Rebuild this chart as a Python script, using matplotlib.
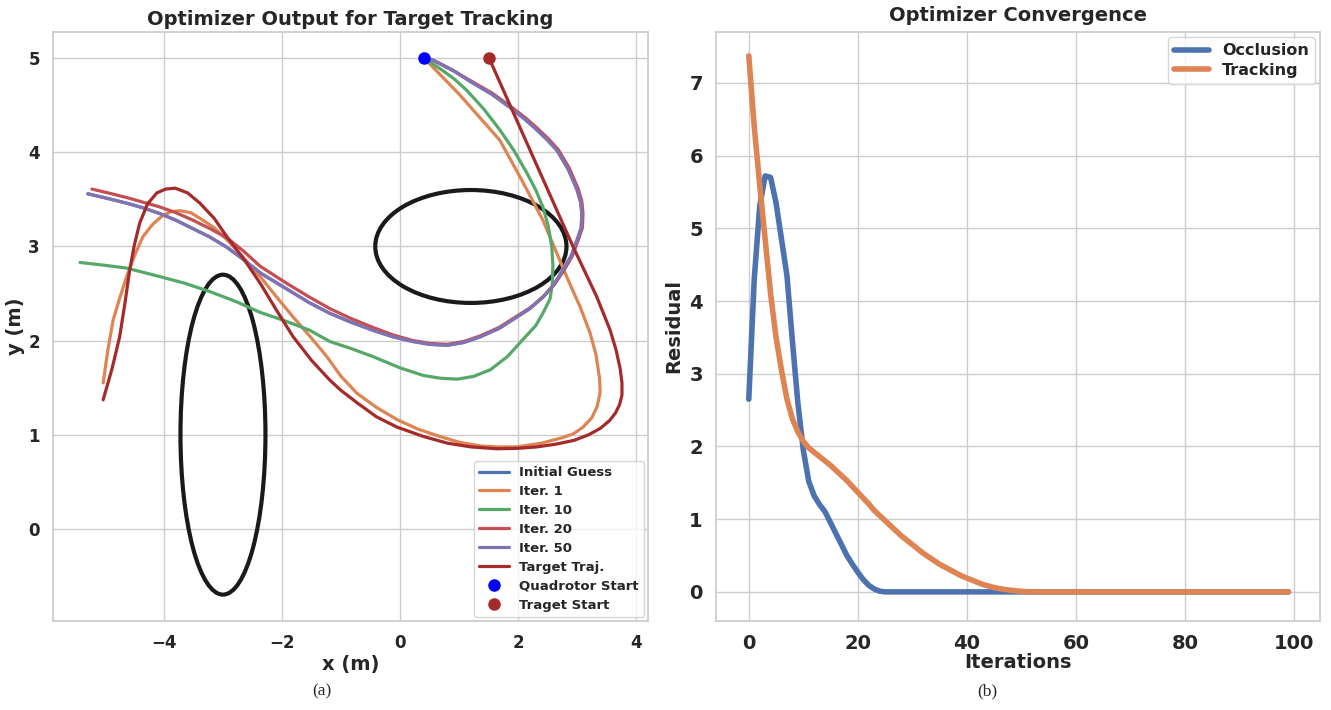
import matplotlib
matplotlib.use('Agg')
import matplotlib.pyplot as plt
from matplotlib.patches import Ellipse
import seaborn as sns

# --- trajectories (x, y in metres) ---
iter1_x = [0.41, 1.0, 1.69, 2.05, 2.42, 2.85, 3.05, 3.22, 3.32, 3.38, 3.39, 3.34, 3.25, 3.1, 2.94,
           2.76, 2.4, 1.98, 1.66, 1.36, 1.0, 0.68, 0.3, -0.05, -0.4, -0.73, -1.0, -1.24, -1.52,
           -1.81, -2.1, -2.37, -2.65, -2.93, -3.15, -3.39, -3.55, -3.73, -3.88, -4.02, -4.2, -4.36,
           -4.5, -4.63, -4.75, -4.86, -4.95, -5.03]
iter1_y = [5.0, 4.62, 4.13, 3.72, 3.28, 2.64, 2.36, 2.08, 1.85, 1.6, 1.45, 1.3, 1.18, 1.08, 1.01,
           0.97, 0.91, 0.87, 0.87, 0.88, 0.92, 0.98, 1.06, 1.16, 1.29, 1.44, 1.62, 1.83, 2.04,
           2.25, 2.47, 2.68, 2.88, 3.07, 3.2, 3.3, 3.36, 3.38, 3.37, 3.33, 3.23, 3.1,
           2.9, 2.68, 2.45, 2.22, 1.9, 1.55]

iter10_x = [0.41, 0.7, 0.92, 1.13, 1.42, 1.69, 1.93, 2.15, 2.3, 2.42, 2.51, 2.57, 2.59, 2.58, 2.54,
            2.42, 2.3, 2.08, 1.82, 1.53, 1.25, 0.97, 0.68, 0.39, 0.0, -0.46, -0.85, -1.19, -1.53,
            -1.95, -2.37, -2.8, -3.22, -3.65, -4.07, -4.63, -5.0, -5.42]
iter10_y = [5.0, 4.88, 4.78, 4.66, 4.46, 4.24, 4.02, 3.78, 3.6, 3.42, 3.22, 3.0, 2.8, 2.6, 2.44,
            2.29, 2.16, 2.01, 1.83, 1.69, 1.62, 1.59, 1.6, 1.63, 1.71, 1.83, 1.92, 1.99, 2.11,
            2.21, 2.3, 2.42, 2.52, 2.61, 2.68, 2.77, 2.8, 2.83]

iter50_x = [0.41, 0.56, 0.9, 1.2, 1.55, 1.86, 2.1, 2.3, 2.5, 2.66, 2.85, 3.0, 3.06, 3.08, 3.07, 3.0,
            2.9, 2.76, 2.6, 2.42, 2.2, 1.98, 1.68, 1.36, 1.08, 0.8, 0.5, 0.22, -0.12, -0.46, -0.85,
            -1.19, -1.53, -1.95, -2.37, -2.65, -2.93, -3.22, -3.51, -3.8, -4.07, -4.35, -4.63,
            -4.95, -5.29]
iter50_y = [5.0, 4.98, 4.87, 4.75, 4.62, 4.48, 4.36, 4.25, 4.13, 4.02, 3.82, 3.6, 3.47, 3.35, 3.2,
            3.07, 2.9, 2.75, 2.59, 2.46, 2.34, 2.25, 2.13, 2.04, 1.98, 1.95, 1.96, 1.99, 2.04, 2.11,
            2.2, 2.29, 2.4, 2.56, 2.72, 2.86, 2.99, 3.1, 3.19, 3.28, 3.35, 3.41, 3.46, 3.51, 3.56]

iter20_x = [0.41, 0.56, 0.9, 1.2, 1.56, 1.87, 2.12, 2.32, 2.52, 2.68, 2.87, 3.02, 3.08, 3.10, 3.09,
            3.02, 2.92, 2.78, 2.62, 2.43, 2.21, 1.98, 1.68, 1.36, 1.08, 0.8, 0.5, 0.22, -0.12,
            -0.46, -0.85, -1.19, -1.53, -1.95, -2.37, -2.65, -2.93, -3.22, -3.51, -3.8, -4.07,
            -4.35, -4.63, -4.95, -5.22]
iter20_y = [5.0, 4.98, 4.87, 4.76, 4.63, 4.49, 4.37, 4.26, 4.14, 4.03, 3.83, 3.61, 3.48, 3.35,
            3.2, 3.07, 2.9, 2.75, 2.6, 2.47, 2.35, 2.26, 2.14, 2.05, 1.99, 1.96, 1.97, 2.0, 2.06,
            2.14, 2.24, 2.34, 2.46, 2.62, 2.79, 2.95, 3.09, 3.19, 3.28, 3.36, 3.42, 3.47, 3.52,
            3.57, 3.61]

# initial guess is hidden under the converged iterations
init_x = iter50_x
init_y = iter50_y

target_x = [1.51, 2.93, 3.33, 3.56, 3.66, 3.73, 3.76, 3.76, 3.72, 3.65, 3.55, 3.4, 3.2, 2.95, 2.65,
            2.32, 2.0, 1.64, 1.2, 0.8, 0.4, -0.05, -0.4, -0.73, -1.0, -1.19, -1.5, -1.81, -2.1,
            -2.37, -2.65, -2.93, -3.15, -3.39, -3.6, -3.81, -3.97, -4.12, -4.28, -4.41, -4.5,
            -4.58, -4.66, -4.75, -4.88, -5.03]
target_y = [5.0, 3.0, 2.47, 2.11, 1.9, 1.7, 1.55, 1.42, 1.32, 1.23, 1.15, 1.07, 1.0, 0.94, 0.9,
            0.87, 0.855, 0.85, 0.87, 0.91, 0.98, 1.08, 1.19, 1.34, 1.47, 1.58, 1.79, 2.04, 2.33,
            2.61, 2.87, 3.1, 3.3, 3.46, 3.57, 3.62, 3.61, 3.57, 3.45, 3.25, 3.02,
            2.75, 2.4, 2.04, 1.7, 1.37]

quad_start = (0.41, 5.0)
target_start = (1.51, 5.0)

# obstacles: centre, full width, full height
obstacles = [((-3.0, 1.0), 1.44, 3.4), ((1.2, 3.0), 3.24, 1.2)]

# --- residuals per iteration (right panel) ---
occlusion = [2.65, 4.3, 5.3, 5.72, 5.70, 5.35, 4.85, 4.35, 3.45, 2.6, 1.95, 1.52, 1.32, 1.2, 1.1,
             0.95, 0.8, 0.65, 0.5, 0.38, 0.27, 0.17, 0.09, 0.04, 0.01] + [0.0] * 75
tracking = [7.37, 6.4, 5.6, 4.85, 4.1, 3.5, 3.05, 2.65, 2.38, 2.2, 2.07, 1.98, 1.92, 1.86, 1.80,
            1.74, 1.67, 1.60, 1.53, 1.45, 1.37, 1.29, 1.21, 1.12, 1.05, 0.98, 0.91, 0.84, 0.77, 0.71,
            0.65, 0.59, 0.53, 0.48, 0.43, 0.38, 0.34, 0.30, 0.26, 0.22, 0.19, 0.16, 0.13, 0.10, 0.08,
            0.06, 0.045, 0.033, 0.023, 0.015, 0.008, 0.003] + [0.0] * 48
iterations = list(range(len(occlusion)))

sns.set_theme(style='whitegrid')
plt.rcParams['font.family'] = ['DejaVu Sans']
plt.rcParams['font.weight'] = 'bold'
plt.rcParams['axes.labelweight'] = 'bold'
plt.rcParams['axes.titleweight'] = 'bold'

fig = plt.figure(figsize=(13.31, 7.1), dpi=100)
ax1 = fig.add_axes([0.0398, 0.1254, 0.447, 0.8296])
ax2 = fig.add_axes([0.538, 0.1254, 0.4538, 0.8296])

pal = sns.color_palette('deep')
lw = 2.3
for (c, w, h) in obstacles:
    ax1.add_patch(Ellipse(c, w, h, fill=False, edgecolor='#1a1a1a', linewidth=3, zorder=2))
ax1.plot(init_x, init_y, color=pal[0], lw=lw, label='Initial Guess', zorder=3)
ax1.plot(iter1_x, iter1_y, color=pal[1], lw=lw, label='Iter. 1', zorder=3)
ax1.plot(iter10_x, iter10_y, color=pal[2], lw=lw, label='Iter. 10', zorder=3)
ax1.plot(iter20_x, iter20_y, color=pal[3], lw=lw, label='Iter. 20', zorder=3)
ax1.plot(iter50_x, iter50_y, color=pal[4], lw=lw, label='Iter. 50', zorder=3)
ax1.plot(target_x, target_y, color='brown', lw=lw, label='Target Traj.', zorder=3)
ax1.plot(*quad_start, 'o', color='blue', ms=8, label='Quadrotor Start', zorder=4)
ax1.plot(*target_start, 'o', color='brown', ms=8, label='Traget Start', zorder=4)

ax1.set_xlim(-5.88, 4.2)
ax1.set_ylim(-0.98, 5.28)
ax1.set_xticks([-4, -2, 0, 2, 4])
ax1.set_yticks([0, 1, 2, 3, 4, 5])
ax1.tick_params(labelsize=12)
ax1.set_xlabel('x (m)', fontsize=14, labelpad=2)
ax1.set_ylabel('y (m)', fontsize=14, labelpad=2)
ax1.set_title('Optimizer Output for Target Tracking', fontsize=14, pad=5)
ax1.legend(loc='lower right', fontsize=9.5, borderaxespad=0.3, handlelength=2.2,
           labelspacing=0.45, borderpad=0.4)

ax2.plot(iterations, occlusion, color=pal[0], lw=4, label='Occlusion')
ax2.plot(iterations, tracking, color=pal[1], lw=4, label='Tracking')
ax2.set_xlim(-6.0, 104.8)
ax2.set_ylim(-0.4, 7.7)
ax2.set_xticks([0, 20, 40, 60, 80, 100])
ax2.set_yticks(range(0, 8))
ax2.tick_params(labelsize=14)
ax2.set_xlabel('Iterations', fontsize=14, labelpad=0)
ax2.set_ylabel('Residual', fontsize=14, labelpad=4)
ax2.set_title('Optimizer Convergence', fontsize=14, pad=8)
ax2.legend(loc='upper right', fontsize=11.5, borderaxespad=0.3, handlelength=2.2,
           labelspacing=0.3, borderpad=0.4)

fig.text(0.242, 0.02, '(a)', fontsize=12.5, family='Liberation Serif', weight='normal', ha='center')
fig.text(0.742, 0.02, '(b)', fontsize=12.5, family='Liberation Serif', weight='normal', ha='center')

fig.savefig('out.png', dpi=100)
